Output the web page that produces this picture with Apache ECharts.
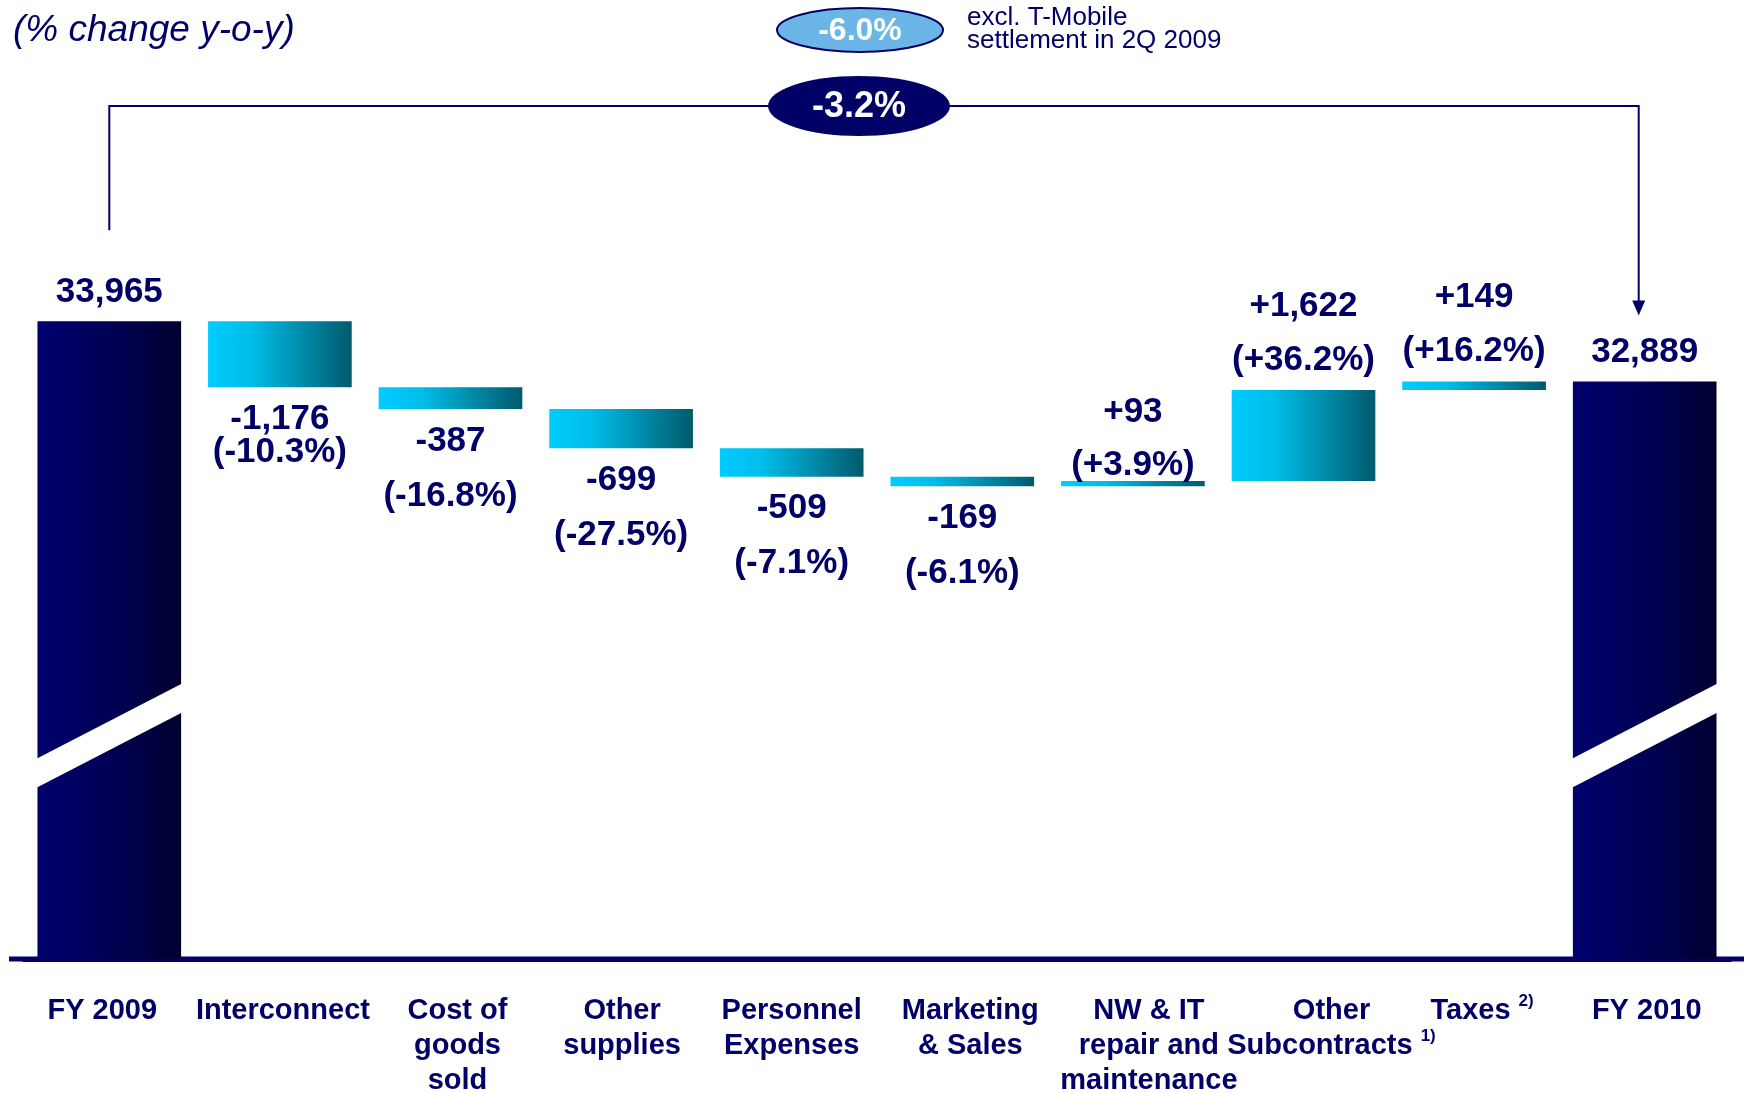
<!DOCTYPE html>
<html>
<head>
<meta charset="utf-8">
<style>
  html, body { margin: 0; padding: 0; background: #ffffff; }
  #chart { width: 1744px; height: 1093px; }
</style>
<script src="https://cdn.jsdelivr.net/npm/echarts@6/dist/echarts.min.js"></script>
</head>
<body>
<div id="chart"></div>
<script>
// ---------------- data ----------------
const categories = ['FY 2009', 'Interconnect', 'Cost of\ngoods\nsold', 'Other\nsupplies', 'Personnel\nExpenses',
  'Marketing\n& Sales', 'NW & IT\nrepair and\nmaintenance', 'Other\nSubcontracts', 'Taxes', 'FY 2010'];
const footnotes = ['', '', '', '', '', '', '', '1)', '2)', ''];
const startTotal = 33965;
const endTotal = 32889;
const deltas = [-1176, -387, -699, -509, -169, 93, 1622, 149];
const pctChanges = ['-10.3%', '-16.8%', '-27.5%', '-7.1%', '-6.1%', '+3.9%', '+36.2%', '+16.2%'];
const totalChange = '-3.2%';
const adjustedChange = '-6.0%';
const adjustedNote = 'excl. T-Mobile\nsettlement in 2Q 2009';
const unitNote = '(% change y-o-y)';

// ---------------- styling constants ----------------
const NAVY = '#000066';
const FONT = '"Liberation Sans", Arial, Helvetica, sans-serif';
const AXIS_MIN = 22600, AXIS_MAX = 36000;
const BREAK_AT = 26580;   // where the axis-break band is drawn on the total bars
const LABEL_SHIFT = [-7, 3, 7, 1, 0, 8, 16, 28, 8, 2];   // horizontal nudge of category labels (px)

// ---------------- build waterfall items ----------------
const items = [];
items.push({ value: [0, AXIS_MIN, startTotal, 0, startTotal] });
let run = startTotal;
deltas.forEach((d, k) => {
  const next = run + d;
  items.push({ value: [k + 1, Math.min(run, next), Math.max(run, next), 1, d] });
  run = next;
});
items.push({ value: [categories.length - 1, AXIS_MIN, endTotal, 0, endTotal] });

function fmt(v, signed) {
  const s = String(Math.abs(v)).replace(/\B(?=(\d{3})+(?!\d))/g, ',');
  if (v < 0) return '-' + s;
  return (signed ? '+' : '') + s;
}

function textEl(text, x, y, size) {
  return {
    type: 'text', z2: 20,
    style: { text, x, y, align: 'center', verticalAlign: 'middle', fill: NAVY,
             fontSize: size || 35, fontWeight: 'bold', fontFamily: FONT }
  };
}

function renderItem(params, api) {
  const i = api.value(0), lo = api.value(1), hi = api.value(2), kind = api.value(3), amt = api.value(4);
  const cs = params.coordSys;
  const bw = api.size([1, 0])[0] * 0.842;
  const pTop = api.coord([i, hi]);
  const cx = pTop[0];
  const x = cx - bw / 2;
  const yTop = pTop[1];
  const yBot = kind === 0 ? cs.y + cs.height : api.coord([i, lo])[1];
  const children = [];
  const fill = kind === 0
    ? new echarts.graphic.LinearGradient(0, 0, 1, 0, [
        { offset: 0, color: '#00006e' }, { offset: 0.45, color: '#000058' }, { offset: 1, color: '#000030' }])
    : new echarts.graphic.LinearGradient(0, 0, 1, 0, [
        { offset: 0, color: '#00ccff' }, { offset: 0.3, color: '#00bde9' }, { offset: 1, color: '#005a6c' }]);
  children.push({ type: 'rect', shape: { x, y: yTop, width: bw, height: Math.max(1, yBot - yTop) }, style: { fill } });

  if (kind === 0) {
    // slanted white break band
    const yb = api.coord([i, BREAK_AT])[1];
    const s = 0.525 * bw, t = 29;
    children.push({
      type: 'polygon', z2: 10,
      shape: { points: [
        [x - 1, yb + s / 2 - t / 2], [x + bw + 1, yb - s / 2 - t / 2],
        [x + bw + 1, yb - s / 2 + t / 2], [x - 1, yb + s / 2 + t / 2]] },
      style: { fill: '#ffffff' }
    });
    children.push(textEl(fmt(amt, false), cx, yTop - 29));
  } else {
    const pct = '(' + pctChanges[i - 1] + ')';
    if (amt < 0) {
      const y1 = yBot + 32;
      const gap = i === 1 ? 33 : 55;
      children.push(textEl(fmt(amt, true), cx, y1));
      children.push(textEl(pct, cx, y1 + gap));
    } else {
      const close = (yBot - yTop) < 10 && i === 6;
      const yp = yTop - (close ? 16 : 30);
      children.push(textEl(pct, cx, yp));
      children.push(textEl(fmt(amt, true), cx, yp - (close ? 53 : 54)));
    }
  }
  return { type: 'group', children };
}

const chart = echarts.init(document.getElementById('chart'), null, { renderer: 'canvas' });

const categoryItems = categories.map((c, i) => {
  const s = LABEL_SHIFT[i];
  return { value: c, textStyle: { padding: s >= 0 ? [0, 0, 0, 2 * s] : [0, -2 * s, 0, 0] } };
});

chart.setOption({
  animation: false,
  backgroundColor: '#ffffff',
  grid: { left: 24, right: 14, top: 207, bottom: 134, containLabel: false, outerBoundsMode: 'none' },
  xAxis: {
    type: 'category',
    data: categoryItems,
    axisTick: { show: false },
    axisLine: { lineStyle: { color: NAVY, width: 5 } },
    axisLabel: {
      interval: 0, margin: 34, color: NAVY, fontSize: 29, fontWeight: 'bold',
      fontFamily: FONT, lineHeight: 35,
      formatter: (v, idx) => footnotes[idx] ? v + ' {sup|' + footnotes[idx] + '}' : v,
      rich: { sup: { fontSize: 17, fontWeight: 'bold', color: NAVY, fontFamily: FONT,
                     verticalAlign: 'top', lineHeight: 18 } }
    },
    splitLine: { show: false }
  },
  yAxis: { type: 'value', min: AXIS_MIN, max: AXIS_MAX, show: false, splitLine: { show: false } },
  series: [{
    type: 'custom',
    renderItem,
    data: items,
    encode: { x: 0, y: [1, 2] },
    z: 5
  }]
});

// ---------------- annotations positioned from the axes ----------------
const last = categories.length - 1;
const p0 = chart.convertToPixel({ gridIndex: 0 }, [0, startTotal]);
const p9 = chart.convertToPixel({ gridIndex: 0 }, [last, endTotal]);
const gridBottom = chart.convertToPixel({ gridIndex: 0 }, [0, AXIS_MIN])[1];
const bracketY = 106;
const tipY = p9[1] - 66;
const xL = p0[0], xR = p9[0] - 6;

chart.setOption({
  graphic: [
    { type: 'line', z: 1, shape: { x1: 9, y1: gridBottom, x2: 1744, y2: gridBottom },
      style: { stroke: NAVY, lineWidth: 5 } },
    { type: 'polyline', z: 2,
      shape: { points: [[xL, p0[1] - 91], [xL, bracketY], [xR, bracketY], [xR, tipY - 14]] },
      style: { stroke: NAVY, lineWidth: 2, fill: null } },
    { type: 'polygon', z: 2,
      shape: { points: [[xR - 6.5, tipY - 15], [xR + 6.5, tipY - 15], [xR, tipY]] },
      style: { fill: NAVY } },
    { type: 'ellipse', z: 3, shape: { cx: 859, cy: bracketY, rx: 91, ry: 30 },
      style: { fill: NAVY } },
    { type: 'text', z: 4, style: { text: totalChange, x: 859, y: bracketY + 1, align: 'center',
      verticalAlign: 'middle', fill: '#ffffff', fontSize: 36, fontWeight: 'bold', fontFamily: FONT } },
    { type: 'ellipse', z: 3, shape: { cx: 860, cy: 30, rx: 83, ry: 22 },
      style: { fill: '#6bb6e6', stroke: NAVY, lineWidth: 2 } },
    { type: 'text', z: 4, style: { text: adjustedChange, x: 860, y: 31, align: 'center',
      verticalAlign: 'middle', fill: '#ffffff', fontSize: 32, fontWeight: 'bold', fontFamily: FONT } },
    { type: 'text', z: 4, style: { text: adjustedNote, x: 967, y: 29, align: 'left',
      verticalAlign: 'middle', fill: NAVY, fontSize: 26, lineHeight: 23, fontFamily: FONT } },
    { type: 'text', z: 4, style: { text: unitNote, x: 13, y: 31, align: 'left',
      verticalAlign: 'middle', fill: NAVY, fontSize: 37, fontStyle: 'italic', fontFamily: FONT } }
  ]
});
</script>
</body>
</html>
